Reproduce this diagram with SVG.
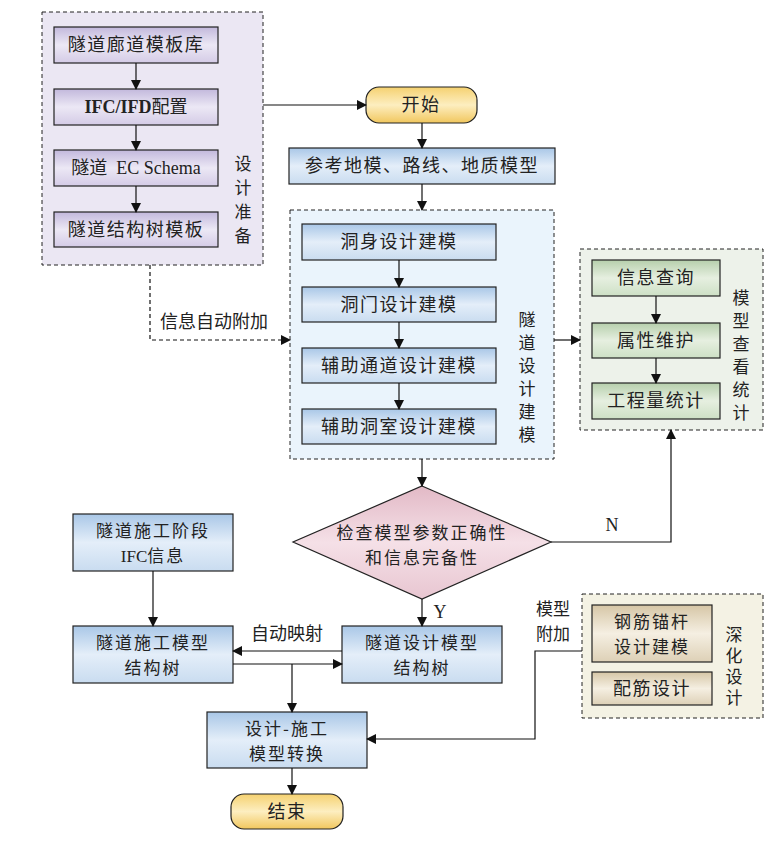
<svg xmlns="http://www.w3.org/2000/svg" width="780" height="843" viewBox="0 0 780 843">
<defs>
<linearGradient id="gBlue" x1="0" y1="0" x2="0" y2="1"><stop offset="0" stop-color="#a9c7e7"/><stop offset="0.5" stop-color="#e4eef9"/><stop offset="1" stop-color="#c9dcf0"/></linearGradient>
<linearGradient id="gPurple" x1="0" y1="0" x2="0" y2="1"><stop offset="0" stop-color="#c2b8dc"/><stop offset="0.5" stop-color="#ece8f5"/><stop offset="1" stop-color="#d4cbe6"/></linearGradient>
<linearGradient id="gGreen" x1="0" y1="0" x2="0" y2="1"><stop offset="0" stop-color="#b6cfac"/><stop offset="0.5" stop-color="#e6efe0"/><stop offset="1" stop-color="#cde0c5"/></linearGradient>
<linearGradient id="gBrown" x1="0" y1="0" x2="0" y2="1"><stop offset="0" stop-color="#d6c6a6"/><stop offset="0.5" stop-color="#f5efe2"/><stop offset="1" stop-color="#ddd0b6"/></linearGradient>
<linearGradient id="gYellow" x1="0" y1="0" x2="0" y2="1"><stop offset="0" stop-color="#f5d170"/><stop offset="0.5" stop-color="#fdeec0"/><stop offset="1" stop-color="#f1c75e"/></linearGradient>
<linearGradient id="gPink" x1="0" y1="0" x2="0" y2="1"><stop offset="0" stop-color="#e2b9c6"/><stop offset="0.5" stop-color="#f5e0e7"/><stop offset="1" stop-color="#e8c6d1"/></linearGradient>
<marker id="ah" markerWidth="10" markerHeight="10" refX="9" refY="5" orient="auto" markerUnits="userSpaceOnUse"><path d="M0,0 L10,5 L0,10 z" fill="#111"/></marker>
</defs>
<style>
.box{stroke:#222;stroke-width:1.2}
.cont{stroke:#222;stroke-width:1;stroke-dasharray:4,3}
.t{font-family:"Noto Sans CJK SC","Liberation Sans",sans-serif;font-size:18px;fill:#222;text-anchor:middle;letter-spacing:1.5px}
.t2{font-family:"Noto Sans CJK SC","Liberation Sans",sans-serif;font-size:17px;fill:#222;text-anchor:middle;letter-spacing:2px}
.l{font-family:"Noto Sans CJK SC","Liberation Sans",sans-serif;font-size:18px;fill:#222;text-anchor:middle}
.l2{font-family:"Noto Sans CJK SC","Liberation Sans",sans-serif;font-size:17px;fill:#222;text-anchor:middle}
.v{font-family:"Noto Sans CJK SC","Liberation Sans",sans-serif;font-size:17px;fill:#222;writing-mode:vertical-rl;text-orientation:upright}
.s{font-family:"Liberation Serif","Noto Sans CJK SC",serif;font-size:18px;fill:#222;text-anchor:middle}
.c{stroke:#111;stroke-width:1.2;fill:none}
.cd{stroke:#111;stroke-width:1.2;fill:none;stroke-dasharray:4,3}
</style>
<rect width="780" height="843" fill="#ffffff"/>

<g id="grp-prep">
<rect class="cont" x="42" y="12" width="221" height="253" fill="#ebe7f3"/>
<text class="v" x="243" y="155" letter-spacing="7">设计准备</text>
</g>
<g id="n-lib"><rect class="box" x="54" y="27" width="164" height="36" fill="url(#gPurple)"/><text class="t" x="136" y="51">隧道廊道模板库</text></g>
<g id="n-ifc"><rect class="box" x="54" y="89" width="164" height="36" fill="url(#gPurple)"/><text class="s" x="136" y="113"><tspan font-weight="bold">IFC/IFD</tspan><tspan font-family="Noto Sans CJK SC">配置</tspan></text></g>
<g id="n-ec"><rect class="box" x="54" y="150" width="164" height="36" fill="url(#gPurple)"/><text class="s" x="136" y="174"><tspan font-family="Noto Sans CJK SC">隧道</tspan>&#160;&#160;EC Schema</text></g>
<g id="n-tree"><rect class="box" x="54" y="212" width="164" height="35" fill="url(#gPurple)"/><text class="t" x="136" y="236">隧道结构树模板</text></g>

<g id="n-start"><rect class="box" x="366" y="87" width="111" height="36" rx="13" fill="url(#gYellow)"/><text class="t" x="421" y="111">开始</text></g>
<g id="n-ref"><rect class="box" x="289" y="148" width="266" height="36" fill="url(#gBlue)"/><text class="t" x="422" y="172">参考地模、路线、地质模型</text></g>

<g id="grp-design">
<rect class="cont" x="290" y="210" width="264" height="249" fill="#eaf4fc"/>
<text class="v" x="527" y="311" letter-spacing="6">隧道设计建模</text>
</g>
<g id="n-body"><rect class="box" x="302" y="224" width="194" height="36" fill="url(#gBlue)"/><text class="t" x="399" y="248">洞身设计建模</text></g>
<g id="n-portal"><rect class="box" x="302" y="287" width="194" height="35" fill="url(#gBlue)"/><text class="t" x="399" y="311">洞门设计建模</text></g>
<g id="n-aux"><rect class="box" x="302" y="348" width="194" height="35" fill="url(#gBlue)"/><text class="t" x="399" y="372">辅助通道设计建模</text></g>
<g id="n-room"><rect class="box" x="302" y="409" width="194" height="35" fill="url(#gBlue)"/><text class="t" x="399" y="433">辅助洞室设计建模</text></g>

<g id="grp-view">
<rect class="cont" x="580" y="249" width="183" height="181" fill="#edf2ea"/>
<text class="v" x="741" y="289" letter-spacing="6">模型查看统计</text>
</g>
<g id="n-query"><rect class="box" x="592" y="260" width="128" height="36" fill="url(#gGreen)"/><text class="t" x="656" y="284">信息查询</text></g>
<g id="n-attr"><rect class="box" x="592" y="323" width="128" height="35" fill="url(#gGreen)"/><text class="t" x="656" y="347">属性维护</text></g>
<g id="n-qty"><rect class="box" x="592" y="383" width="128" height="36" fill="url(#gGreen)"/><text class="t" x="656" y="407">工程量统计</text></g>

<g id="n-check"><polygon class="box" points="422,486 551,542 422,599 293,542" fill="url(#gPink)"/><text class="t2" x="422" y="539">检查模型参数正确性<tspan x="422" dy="25">和信息完备性</tspan></text></g>

<g id="n-cifc"><rect class="box" x="73" y="514" width="160" height="57" fill="url(#gBlue)"/><text class="t2" x="153" y="537">隧道施工阶段<tspan x="153" dy="25" font-family="Liberation Serif" letter-spacing="0">IFC</tspan><tspan font-family="Noto Sans CJK SC">信息</tspan></text></g>
<g id="n-ctree"><rect class="box" x="73" y="626" width="160" height="57" fill="url(#gBlue)"/><text class="t2" x="153" y="649">隧道施工模型<tspan x="153" dy="25">结构树</tspan></text></g>
<g id="n-dtree"><rect class="box" x="342" y="626" width="160" height="57" fill="url(#gBlue)"/><text class="t2" x="422" y="649">隧道设计模型<tspan x="422" dy="25">结构树</tspan></text></g>

<g id="grp-deep">
<rect class="cont" x="582" y="594" width="181" height="124" fill="#f4f2e4"/>
<text class="v" x="734" y="626" letter-spacing="4">深化设计</text>
</g>
<g id="n-rebar"><rect class="box" x="592" y="605" width="120" height="57" fill="url(#gBrown)"/><text class="t2" x="652" y="628">钢筋锚杆<tspan x="652" dy="25">设计建模</tspan></text></g>
<g id="n-reinf"><rect class="box" x="592" y="672" width="120" height="33" fill="url(#gBrown)"/><text class="t" x="652" y="695">配筋设计</text></g>

<g id="n-trans"><rect class="box" x="207" y="712" width="160" height="56" fill="url(#gBlue)"/><text class="t2" x="287" y="735">设计-施工<tspan x="287" dy="25">模型转换</tspan></text></g>
<g id="n-end"><rect class="box" x="231" y="794" width="112" height="35" rx="13" fill="url(#gYellow)"/><text class="t" x="287" y="818">结束</text></g>

<g id="connectors">
<line class="c" x1="136" y1="63" x2="136" y2="89" marker-end="url(#ah)"/>
<line class="c" x1="136" y1="125" x2="136" y2="150" marker-end="url(#ah)"/>
<line class="c" x1="136" y1="186" x2="136" y2="212" marker-end="url(#ah)"/>
<line class="c" x1="263" y1="105" x2="366" y2="105" marker-end="url(#ah)"/>
<line class="c" x1="422" y1="123" x2="422" y2="148" marker-end="url(#ah)"/>
<line class="c" x1="422" y1="184" x2="422" y2="210" marker-end="url(#ah)"/>
<line class="c" x1="399" y1="260" x2="399" y2="287" marker-end="url(#ah)"/>
<line class="c" x1="399" y1="322" x2="399" y2="348" marker-end="url(#ah)"/>
<line class="c" x1="399" y1="383" x2="399" y2="409" marker-end="url(#ah)"/>
<polyline class="cd" points="150,265 150,340 290,340" marker-end="url(#ah)"/>
<text class="l" x="214" y="328">信息自动附加</text>
<line class="c" x1="554" y1="340" x2="580" y2="340" marker-end="url(#ah)"/>
<line class="c" x1="656" y1="296" x2="656" y2="323" marker-end="url(#ah)"/>
<line class="c" x1="656" y1="358" x2="656" y2="383" marker-end="url(#ah)"/>
<line class="c" x1="422" y1="459" x2="422" y2="486" marker-end="url(#ah)"/>
<polyline class="c" points="551,542 671,542 671,430" marker-end="url(#ah)"/>
<text class="s" x="612" y="531">N</text>
<line class="c" x1="422" y1="599" x2="422" y2="626" marker-end="url(#ah)"/>
<text class="s" x="440" y="618">Y</text>
<line class="c" x1="153" y1="571" x2="153" y2="626" marker-end="url(#ah)"/>
<line class="c" x1="342" y1="651" x2="233" y2="651" marker-end="url(#ah)"/>
<text class="l" x="287" y="640">自动映射</text>
<line class="c" x1="233" y1="664" x2="342" y2="664" marker-end="url(#ah)"/>
<line class="c" x1="292" y1="664" x2="292" y2="712" marker-end="url(#ah)"/>
<line class="c" x1="292" y1="768" x2="292" y2="794" marker-end="url(#ah)"/>
<polyline class="c" points="582,651 535,651 535,739 367,739" marker-end="url(#ah)"/>
<text class="l2" x="553" y="615">模型<tspan x="553" dy="25">附加</tspan></text>
</g>
</svg>
